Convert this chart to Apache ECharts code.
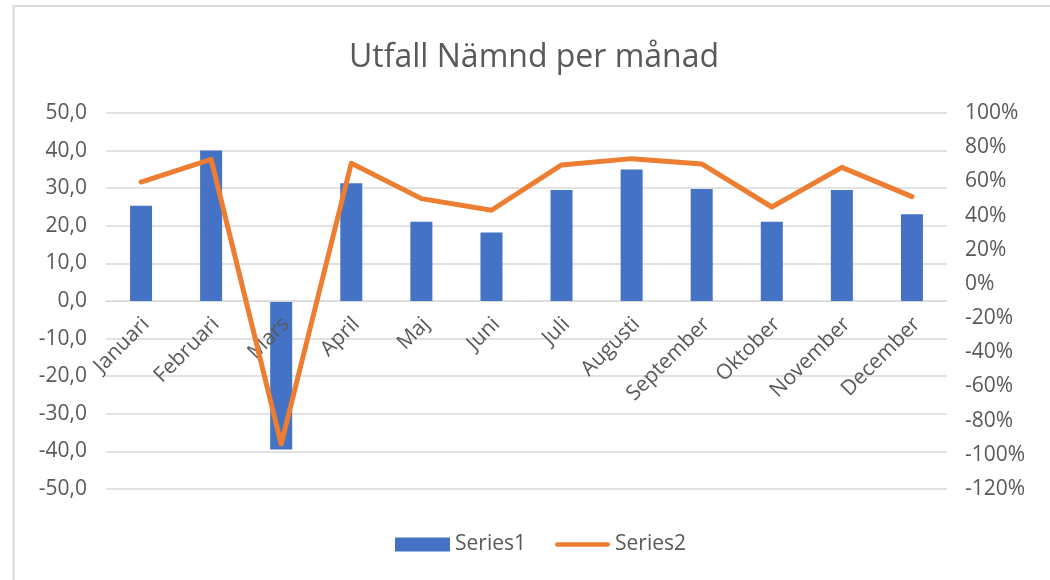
<!DOCTYPE html>
<html>
<head>
<meta charset="utf-8">
<script src="https://cdn.jsdelivr.net/npm/echarts@6/dist/echarts.min.js"></script>
<style>
html,body{margin:0;padding:0;background:#fff;}
#chart{width:1050px;height:580px;}
</style>
</head>
<body>
<div id="chart"></div>
<script>
const categories = ['Januari','Februari','Mars','April','Maj','Juni','Juli','Augusti','September','Oktober','November','December'];
const series1 = [25.3, 40.0, -39.5, 31.3, 21.1, 18.2, 29.5, 35.0, 29.8, 21.1, 29.5, 23.1];
const series2 = [59.6, 72.9, -93.7, 70.6, 49.9, 43.1, 69.6, 73.3, 70.2, 45.0, 68.2, 51.1];
const leftTicks = {min: -50, max: 50, interval: 10};
const rightTicks = {min: -120, max: 100, interval: 20};

const txt = '#595959';
const font = 'Open Sans';
const gridTop = 113, gridBottom = 91, H = 580;
const plotH = H - gridTop - gridBottom;
// move category axis up to the zero line of the left axis
const zeroOffset = -plotH * (0 - leftTicks.min) / (leftTicks.max - leftTicks.min);

const chart = echarts.init(document.getElementById('chart'), null, {renderer: 'canvas'});
chart.setOption({
  backgroundColor: '#fff',
  animation: false,
  textStyle: {fontFamily: font},
  graphic: [{
    type: 'rect',
    shape: {x: 13.5, y: 6, width: 1100, height: 700},
    style: {fill: 'none', stroke: '#d9d9d9', lineWidth: 2},
    silent: true
  }],
  title: {
    text: 'Utfall Nämnd per månad',
    left: 349,
    top: 42,
    padding: 0,
    textStyle: {fontFamily: font, fontSize: 32, fontWeight: 'normal', color: txt}
  },
  legend: {
    bottom: 25,
    left: 395,
    padding: 0,
    itemGap: 29,
    itemWidth: 55,
    itemHeight: 14,
    textStyle: {fontFamily: font, fontSize: 21, color: txt},
    data: [
      {name: 'Series1', icon: 'rect'},
      {name: 'Series2', icon: 'path://M2.5,0 L55.5,0 A2.5,2.5 0 0 1 55.5,5 L2.5,5 A2.5,2.5 0 0 1 2.5,0 Z', itemStyle: {color: '#ED7D31'}}
    ]
  },
  grid: {left: 106, right: 103, top: gridTop, bottom: gridBottom, containLabel: false, outerBoundsMode: 'none'},
  xAxis: {
    type: 'category',
    data: categories,
    offset: zeroOffset,
    z: 3,
    axisLine: {onZero: false, lineStyle: {color: '#d9d9d9', width: 1}},
    axisTick: {show: false},
    axisLabel: {rotate: 45, margin: 15, interval: 0, fontSize: 21, color: txt, fontFamily: font, verticalAlign: 'top', lineHeight: 14}
  },
  yAxis: [{
    type: 'value',
    min: leftTicks.min, max: leftTicks.max, interval: leftTicks.interval,
    axisLine: {show: false},
    axisTick: {show: false},
    splitLine: {lineStyle: {color: '#d9d9d9', width: 1.5}},
    axisLabel: {
      fontSize: 21, color: txt, fontFamily: font, margin: 19,
      formatter: v => v.toFixed(1).replace('.', ',')
    }
  }, {
    type: 'value',
    min: rightTicks.min, max: rightTicks.max, interval: rightTicks.interval,
    axisLine: {show: false},
    axisTick: {show: false},
    splitLine: {show: false},
    axisLabel: {fontSize: 21, color: txt, fontFamily: font, margin: 18, formatter: v => v + '%'}
  }],
  series: [{
    name: 'Series1',
    type: 'bar',
    data: series1,
    barWidth: 22,
    itemStyle: {color: '#4472C4'},
    yAxisIndex: 0
  }, {
    name: 'Series2',
    type: 'line',
    data: series2,
    yAxisIndex: 1,
    symbol: 'none',
    lineStyle: {color: '#ED7D31', width: 5, cap: 'round', join: 'round'},
    itemStyle: {color: '#ED7D31'},
    z: 5
  }]
});
</script>
</body>
</html>
